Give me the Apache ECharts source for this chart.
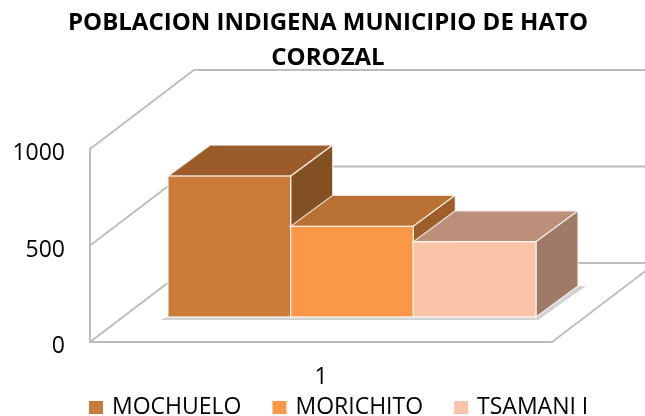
<!DOCTYPE html>
<html><head><meta charset="utf-8">
<style>html,body{margin:0;padding:0;background:#fff}#c{width:645px;height:416px}</style>
<script src="https://cdn.jsdelivr.net/npm/echarts@6/dist/echarts.min.js"></script>
</head><body><div id="c"></div>
<script>
const titleText = 'POBLACION INDIGENA MUNICIPIO DE HATO\nCOROZAL';
const categories = ['1'];
const seriesNames = ['MOCHUELO', 'MORICHITO', 'TSAMANI I'];
const mochuelo = [730];
const morichito = [470];
const tsamani = [390];
const yTicks = [0, 500, 1000];
const frontColors = ['#C97B37', '#FA9848', '#FBC3A8'];
const topColors = ['#9B5C29', '#B97033', '#BC8F7A'];
const sideColors = ['#825022', '#9E5E2A', '#A07A69'];

const WALL_DX = 104, WALL_DY = 79;      // oblique projection of the chart depth
const BAR_DX = 42, BAR_DY = 31;         // depth of a bar
const BASE_DX = 31, BASE_DY = 25;       // how far back the bars stand
const BAR_RATIO = 0.2655;               // bar width / band width
const GRID = '#bdbdbd';

function barItem(idx) {
  return function (params, api) {
    const cat = api.value(0), val = api.value(1);
    const c = api.coord([cat, val]), z = api.coord([cat, 0]);
    const w = api.size([1, 0])[0] * BAR_RATIO;
    const left = c[0] + (idx - 1.5) * w + BASE_DX, right = left + w;
    const base = z[1] - BASE_DY, top = c[1] - BASE_DY;
    const edge = { stroke: 'rgba(255,255,255,0.75)', lineWidth: 1.3 };
    const poly = (pts, fill) => ({ type: 'polygon', shape: { points: pts }, style: Object.assign({ fill }, edge) });
    return { type: 'group', children: [
      poly([[left, top], [right, top], [right + BAR_DX, top - BAR_DY], [left + BAR_DX, top - BAR_DY]], topColors[idx]),
      poly([[right, top], [right + BAR_DX, top - BAR_DY], [right + BAR_DX, base - BAR_DY], [right, base]], sideColors[idx]),
      poly([[left, top], [right, top], [right, base], [left, base]], frontColors[idx])
    ]};
  };
}
function wallItem(params, api) {
  const v = api.value(0), cs = params.coordSys;
  const p = api.coord([0, v]);
  const x0 = cs.x, x1 = cs.x + cs.width, y = p[1];
  const line = { stroke: GRID, lineWidth: 1.8, fill: 'none' };
  const children = [{ type: 'polyline', shape: { points: [[x0, y], [x0 + WALL_DX, y - WALL_DY], [x1 + WALL_DX, y - WALL_DY]] }, style: line }];
  if (v === 0) {
    children.push({ type: 'polyline', shape: { points: [[x1, y], [x1 + WALL_DX, y - WALL_DY]] }, style: line });
    // soft shadow of the bars on the floor
    const b = y - BASE_DY, l = x0 + BASE_DX + (cs.width - 3 * cs.width * BAR_RATIO) / 2, r = l + 3 * cs.width * BAR_RATIO;
    children.push({ type: 'polygon', shape: { points: [[l - 8, b + 3], [r + 2, b + 3], [r + BAR_DX + 8, b - BAR_DY], [r + BAR_DX, b - BAR_DY], [r, b], [l, b]] }, style: { fill: '#d2d2d2' } });
  }
  return { type: 'group', children };
}

const chart = echarts.init(document.getElementById('c'), null, { renderer: 'canvas' });
chart.setOption({
  animation: false,
  backgroundColor: '#fff',
  title: { text: titleText, left: 323, textAlign: 'center', top: 1,
    textStyle: { fontFamily: 'Open Sans', fontWeight: 'bold', fontSize: 24, lineHeight: 35, color: '#000' } },
  legend: { data: seriesNames, left: 84, top: 391, itemWidth: 14, itemHeight: 13, itemGap: 31, icon: 'rect',
    textStyle: { fontFamily: 'Open Sans', fontSize: 23, color: '#000', padding: [0, 0, 0, 4] } },
  grid: { left: 90, right: 93, top: 149, bottom: 74 },
  xAxis: { type: 'category', data: categories, axisTick: { show: false },
    axisLine: { lineStyle: { color: GRID, width: 2 } },
    axisLabel: { fontFamily: 'Open Sans', fontSize: 23, color: '#000', margin: 24 } },
  yAxis: { type: 'value', min: 0, max: 1000, interval: 500, splitLine: { show: false }, axisTick: { show: false },
    axisLine: { show: true, lineStyle: { color: GRID, width: 2 } },
    axisLabel: { fontFamily: 'Open Sans', fontSize: 23, color: '#000', margin: 25, verticalAlign: 'top', lineHeight: 9, formatter: v => String(v) } },
  series: [
    { type: 'custom', name: 'walls', silent: true, z: 1, data: yTicks.map(v => [v]), encode: { y: 0 }, renderItem: wallItem },
    { type: 'custom', name: seriesNames[0], z: 2, itemStyle: { color: frontColors[0] }, data: mochuelo.map((v, i) => [i, v]), encode: { x: 0, y: 1 }, renderItem: barItem(0) },
    { type: 'custom', name: seriesNames[1], z: 3, itemStyle: { color: frontColors[1] }, data: morichito.map((v, i) => [i, v]), encode: { x: 0, y: 1 }, renderItem: barItem(1) },
    { type: 'custom', name: seriesNames[2], z: 4, itemStyle: { color: frontColors[2] }, data: tsamani.map((v, i) => [i, v]), encode: { x: 0, y: 1 }, renderItem: barItem(2) }
  ]
});
</script></body></html>
